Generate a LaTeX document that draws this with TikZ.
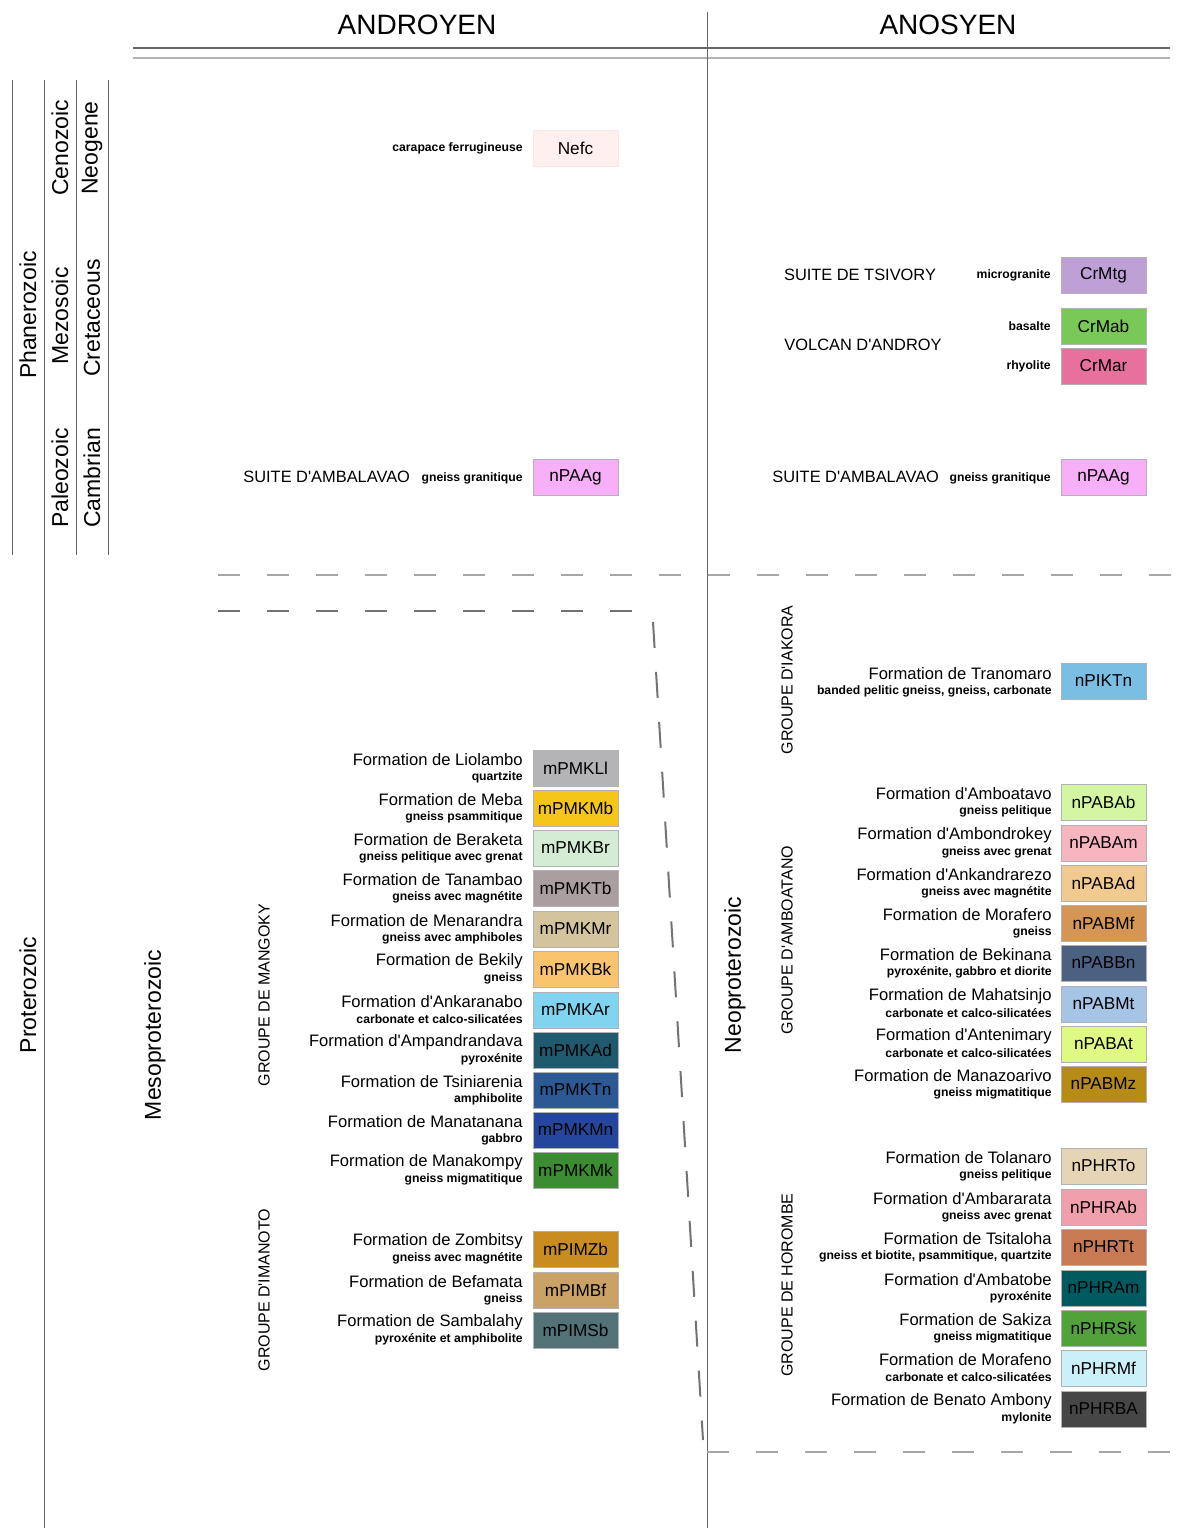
\documentclass[tikz,border=0pt]{standalone}
\usepackage{fontspec}
\setmainfont{Liberation Sans}
\begin{document}
\begin{tikzpicture}[x=0.5pt, y={(0pt,-0.5pt)},
  unit/.style={draw=gray!60, minimum width=42.5pt, minimum height=18pt, inner sep=0pt, font=\fontsize{8.6}{10}\selectfont},
  fname/.style={anchor=east, inner sep=0pt, font=\fontsize{8.3}{9}\selectfont},
  rock/.style={anchor=east, inner sep=0pt, font=\bfseries\fontsize{6.1}{7}\selectfont},
  suite/.style={inner sep=0pt, font=\fontsize{8.2}{10}\selectfont},
  era/.style={rotate=90, inner sep=0pt, font=\fontsize{11.5}{13}\selectfont},
  groupe/.style={rotate=90, inner sep=0pt, font=\fontsize{8}{9}\selectfont},
  rule/.style={gray!80!black, line width=0.5pt},
  limit/.style={gray!70, line width=1pt, dash pattern=on 11pt off 13.5pt}]
\useasboundingbox (0,0) rectangle (1177,1528);

% headings and frame
\node[font=\fontsize{14}{16}\selectfont] (androyen) at (417,25) {ANDROYEN};
\node[font=\fontsize{14}{16}\selectfont] (anosyen) at (948,25) {ANOSYEN};
\draw[gray!80!black, line width=0.9pt] (133,48) -- (1170,48);
\draw[gray!60, line width=0.9pt] (133,58) -- (1170,58);
\draw[rule] (707,12) -- (707,1528);

% time scale
\draw[rule] (12,80) -- (12,555);
\draw[rule] (44,80) -- (44,1528);
\draw[rule] (76,80) -- (76,555);
\draw[rule] (108,80) -- (108,555);
\node[era] (phanero) at (28,315) {Phanerozoic};
\node[era] (ceno) at (60,148) {Cenozoic};
\node[era] (mezo) at (60,316) {Mezosoic};
\node[era] (paleo) at (60,478) {Paleozoic};
\node[era] (neogene) at (92,148) {Neogene};
\node[era] (cretac) at (92,318) {Cretaceous};
\node[era] (cambrian) at (92,478) {Cambrian};
\node[era] (protero) at (28,995) {Proterozoic};
\node[era] (mesoprot) at (155,1035) {Mesoproterozoic};
\node[era] (neoprot) at (735,975) {Neoproterozoic};

% limits
\draw[limit] (218,575) -- (1177,575);
\draw[limit, gray!90!black] (218,611) -- (640,611);
\draw[limit, gray!90!black, dash pattern=on 13pt off 12pt] (653,622) -- (703,1440);
\draw[limit] (707,1452) -- (1177,1452);

% Neogene
\node[unit, fill=pink!25, draw=pink!40] (Nefc) at (575.5,148) {Nefc};
\node[rock] (nefc-r) at (523,148) {carapace ferrugineuse};

% Cretaceous
\node[suite] (tsivory) at (860,275) {SUITE DE TSIVORY};
\node[suite] (androy) at (863,345) {VOLCAN D\textquotesingle ANDROY};
\node[unit, fill={rgb,255:red,190;green,160;blue,214}] (CrMtg) at (1103.5,275) {CrMtg};
\node[rock] (crmtg-r) at (1051,275) {microgranite};
\node[unit, fill={rgb,255:red,122;green,200;blue,88}] (CrMab) at (1103.5,326) {CrMab};
\node[rock] (crmab-r) at (1051,326) {basalte};
\node[unit, fill={rgb,255:red,232;green,112;blue,156}] (CrMar) at (1103.5,366) {CrMar};
\node[rock] (crmar-r) at (1051,366) {rhyolite};

% Cambrian
\node[suite, anchor=west] (ambal-w) at (243,477) {SUITE D\textquotesingle AMBALAVAO};
\node[rock] (ambal-w-r) at (523,478) {gneiss granitique};
\node[unit, fill={rgb,255:red,247;green,176;blue,247}] (nPAAg-w) at (575.5,477) {nPAAg};
\node[suite, anchor=west] (ambal-e) at (772,477) {SUITE D\textquotesingle AMBALAVAO};
\node[rock] (ambal-e-r) at (1051,478) {gneiss granitique};
\node[unit, fill={rgb,255:red,247;green,176;blue,247}] (nPAAg-e) at (1103.5,477) {nPAAg};

% groupe de Mangoky
\node[groupe] (mangoky) at (264,995) {GROUPE DE MANGOKY};
\node[unit, fill={rgb,255:red,180;green,180;blue,182}] (mPMKLl) at (575.5,768) {mPMKLl};
\node[fname] (liolambo) at (523,760) {Formation de Liolambo};
\node[rock] (liolambo-r) at (523,777) {quartzite};
\node[unit, fill={rgb,255:red,245;green,197;blue,24}] (mPMKMb) at (575.5,808) {mPMKMb};
\node[fname] (meba) at (523,800) {Formation de Meba};
\node[rock] (meba-r) at (523,817) {gneiss psammitique};
\node[unit, fill={rgb,255:red,212;green,236;blue,212}] (mPMKBr) at (575.5,848) {mPMKBr};
\node[fname] (beraketa) at (523,840) {Formation de Beraketa};
\node[rock] (beraketa-r) at (523,857) {gneiss pelitique avec grenat};
\node[unit, fill={rgb,255:red,170;green,158;blue,160}] (mPMKTb) at (575.5,888) {mPMKTb};
\node[fname] (tanambao) at (523,880) {Formation de Tanambao};
\node[rock] (tanambao-r) at (523,897) {gneiss avec magnétite};
\node[unit, fill={rgb,255:red,212;green,196;blue,158}] (mPMKMr) at (575.5,929) {mPMKMr};
\node[fname] (menarandra) at (523,921) {Formation de Menarandra};
\node[rock] (menarandra-r) at (523,938) {gneiss avec amphiboles};
\node[unit, fill={rgb,255:red,250;green,195;blue,110}] (mPMKBk) at (575.5,969) {mPMKBk};
\node[fname] (bekily) at (523,961) {Formation de Bekily};
\node[rock] (bekily-r) at (523,978) {gneiss};
\node[unit, fill={rgb,255:red,128;green,212;blue,240}] (mPMKAr) at (575.5,1010) {mPMKAr};
\node[fname] (ankaranabo) at (523,1002) {Formation d\textquotesingle Ankaranabo};
\node[rock] (ankaranabo-r) at (523,1019) {carbonate et calco-silicatées};
\node[unit, fill={rgb,255:red,32;green,90;blue,110}] (mPMKAd) at (575.5,1050) {mPMKAd};
\node[fname] (ampandrandava) at (523,1042) {Formation d\textquotesingle Ampandrandava};
\node[rock] (ampandrandava-r) at (523,1059) {pyroxénite};
\node[unit, fill={rgb,255:red,44;green,88;blue,148}] (mPMKTn) at (575.5,1090) {mPMKTn};
\node[fname] (tsiniarenia) at (523,1082) {Formation de Tsiniarenia};
\node[rock] (tsiniarenia-r) at (523,1099) {amphibolite};
\node[unit, fill={rgb,255:red,36;green,70;blue,156}] (mPMKMn) at (575.5,1130) {mPMKMn};
\node[fname] (manatanana) at (523,1122) {Formation de Manatanana};
\node[rock] (manatanana-r) at (523,1139) {gabbro};
\node[unit, fill={rgb,255:red,60;green,140;blue,50}] (mPMKMk) at (575.5,1170) {mPMKMk};
\node[fname] (manakompy) at (523,1162) {Formation de Manakompy};
\node[rock] (manakompy-r) at (523,1179) {gneiss migmatitique};

% groupe d'Imanoto
\node[groupe] (imanoto) at (264,1290) {GROUPE D\textquotesingle IMANOTO};
\node[unit, fill={rgb,255:red,200;green,140;blue,32}] (mPIMZb) at (575.5,1249) {mPIMZb};
\node[fname] (zombitsy) at (523,1241) {Formation de Zombitsy};
\node[rock] (zombitsy-r) at (523,1258) {gneiss avec magnétite};
\node[unit, fill={rgb,255:red,202;green,162;blue,102}] (mPIMBf) at (575.5,1290) {mPIMBf};
\node[fname] (befamata) at (523,1282) {Formation de Befamata};
\node[rock] (befamata-r) at (523,1299) {gneiss};
\node[unit, fill={rgb,255:red,82;green,114;blue,120}] (mPIMSb) at (575.5,1330) {mPIMSb};
\node[fname] (sambalahy) at (523,1322) {Formation de Sambalahy};
\node[rock] (sambalahy-r) at (523,1339) {pyroxénite et amphibolite};

% groupe d'Iakora
\node[groupe] (iakora) at (787,680) {GROUPE D\textquotesingle IAKORA};
\node[unit, fill={rgb,255:red,122;green,190;blue,228}] (nPIKTn) at (1103.5,681) {nPIKTn};
\node[fname] (tranomaro) at (1052,674) {Formation de Tranomaro};
\node[rock] (tranomaro-r) at (1052,691) {banded pelitic gneiss, gneiss, carbonate};

% groupe d'Amboatano
\node[groupe] (amboatano) at (787,940) {GROUPE D\textquotesingle AMBOATANO};
\node[unit, fill={rgb,255:red,212;green,245;blue,162}] (nPABAb) at (1103.5,802) {nPABAb};
\node[fname] (amboatavo) at (1052,794) {Formation d\textquotesingle Amboatavo};
\node[rock] (amboatavo-r) at (1052,811) {gneiss pelitique};
\node[unit, fill={rgb,255:red,246;green,182;blue,192}] (nPABAm) at (1103.5,843) {nPABAm};
\node[fname] (ambondrokey) at (1052,835) {Formation d\textquotesingle Ambondrokey};
\node[rock] (ambondrokey-r) at (1052,852) {gneiss avec grenat};
\node[unit, fill={rgb,255:red,240;green,202;blue,142}] (nPABAd) at (1103.5,883) {nPABAd};
\node[fname] (ankandrarezo) at (1052,875) {Formation d\textquotesingle Ankandrarezo};
\node[rock] (ankandrarezo-r) at (1052,892) {gneiss avec magnétite};
\node[unit, fill={rgb,255:red,212;green,150;blue,82}] (nPABMf) at (1103.5,923) {nPABMf};
\node[fname] (morafero) at (1052,915) {Formation de Morafero};
\node[rock] (morafero-r) at (1052,932) {gneiss};
\node[unit, fill={rgb,255:red,76;green,96;blue,130}] (nPABBn) at (1103.5,963) {nPABBn};
\node[fname] (bekinana) at (1052,955) {Formation de Bekinana};
\node[rock] (bekinana-r) at (1052,972) {pyroxénite, gabbro et diorite};
\node[unit, fill={rgb,255:red,166;green,196;blue,230}] (nPABMt) at (1103.5,1004) {nPABMt};
\node[fname] (mahatsinjo) at (1052,996) {Formation de Mahatsinjo};
\node[rock] (mahatsinjo-r) at (1052,1013) {carbonate et calco-silicatées};
\node[unit, fill={rgb,255:red,222;green,250;blue,130}] (nPABAt) at (1103.5,1044) {nPABAt};
\node[fname] (antenimary) at (1052,1036) {Formation d\textquotesingle Antenimary};
\node[rock] (antenimary-r) at (1052,1053) {carbonate et calco-silicatées};
\node[unit, fill={rgb,255:red,182;green,140;blue,22}] (nPABMz) at (1103.5,1084) {nPABMz};
\node[fname] (manazoarivo) at (1052,1076) {Formation de Manazoarivo};
\node[rock] (manazoarivo-r) at (1052,1093) {gneiss migmatitique};

% groupe de Horombe
\node[groupe] (horombe) at (787,1285) {GROUPE DE HOROMBE};
\node[unit, fill={rgb,255:red,230;green,212;blue,182}] (nPHRTo) at (1103.5,1166) {nPHRTo};
\node[fname] (tolanaro) at (1052,1158) {Formation de Tolanaro};
\node[rock] (tolanaro-r) at (1052,1175) {gneiss pelitique};
\node[unit, fill={rgb,255:red,240;green,160;blue,172}] (nPHRAb) at (1103.5,1207) {nPHRAb};
\node[fname] (ambararata) at (1052,1199) {Formation d\textquotesingle Ambararata};
\node[rock] (ambararata-r) at (1052,1216) {gneiss avec grenat};
\node[unit, fill={rgb,255:red,200;green,122;blue,82}] (nPHRTt) at (1103.5,1247) {nPHRTt};
\node[fname] (tsitaloha) at (1052,1239) {Formation de Tsitaloha};
\node[rock] (tsitaloha-r) at (1052,1256) {gneiss et biotite, psammitique, quartzite};
\node[unit, fill={rgb,255:red,0;green,90;blue,96}] (nPHRAm) at (1103.5,1288) {nPHRAm};
\node[fname] (ambatobe) at (1052,1280) {Formation d\textquotesingle Ambatobe};
\node[rock] (ambatobe-r) at (1052,1297) {pyroxénite};
\node[unit, fill={rgb,255:red,82;green,162;blue,60}] (nPHRSk) at (1103.5,1328) {nPHRSk};
\node[fname] (sakiza) at (1052,1320) {Formation de Sakiza};
\node[rock] (sakiza-r) at (1052,1337) {gneiss migmatitique};
\node[unit, fill={rgb,255:red,202;green,240;blue,250}] (nPHRMf) at (1103.5,1368) {nPHRMf};
\node[fname] (morafeno) at (1052,1360) {Formation de Morafeno};
\node[rock] (morafeno-r) at (1052,1377) {carbonate et calco-silicatées};
\node[unit, fill={rgb,255:red,70;green,70;blue,70}] (nPHRBA) at (1103.5,1409) {nPHRBA};
\node[fname] (benato) at (1052,1401) {Formation de Benato Ambony};
\node[rock] (benato-r) at (1052,1418) {mylonite};
\end{tikzpicture}
\end{document}
